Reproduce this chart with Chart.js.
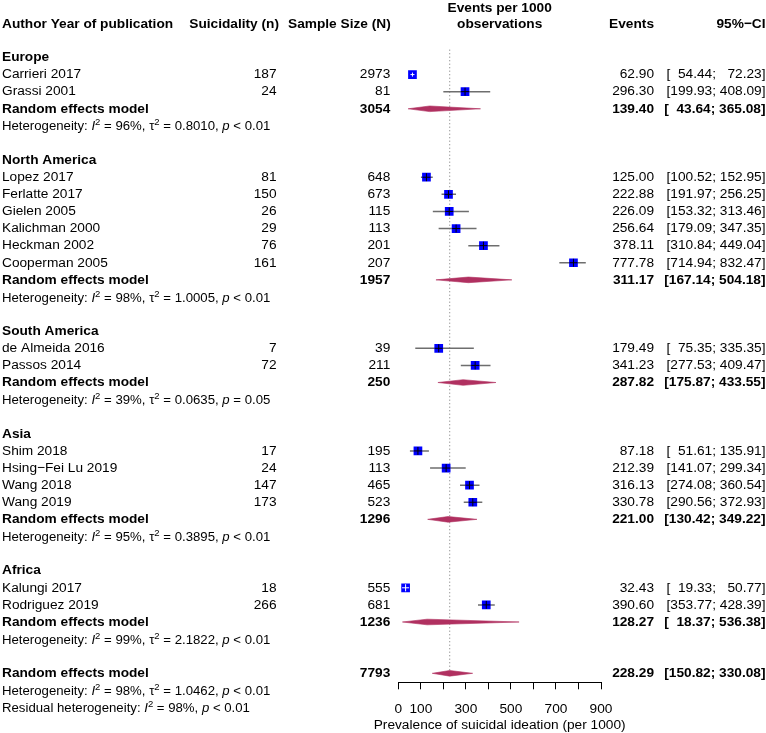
<!DOCTYPE html>
<html><head><meta charset="utf-8">
<script src="https://cdn.jsdelivr.net/npm/chart.js@4"></script>
<style>html,body{margin:0;padding:0;background:#fff;}canvas{display:block;}</style>
</head><body>
<canvas id="c" width="766" height="733"></canvas>
<script>
// ---------------- DATA ----------------
const groupNames = ['Europe', 'North America', 'South America', 'Asia', 'Africa'];
const studyGroup = [0, 0, 1, 1, 1, 1, 1, 1, 2, 2, 3, 3, 3, 3, 4, 4];
const studyLabels = ['Carrieri 2017', 'Grassi 2001', 'Lopez 2017', 'Ferlatte 2017', 'Gielen 2005',
  'Kalichman 2000', 'Heckman 2002', 'Cooperman 2005', 'de Almeida 2016', 'Passos 2014',
  'Shim 2018', 'Hsing\u2212Fei Lu 2019', 'Wang 2018', 'Wang 2019', 'Kalungi 2017', 'Rodriguez 2019'];
const studyEvents = [187, 24, 81, 150, 26, 29, 76, 161, 7, 72, 17, 24, 147, 173, 18, 266];
const studyN = [2973, 81, 648, 673, 115, 113, 201, 207, 39, 211, 195, 113, 465, 523, 555, 681];
const studyEst = [62.90, 296.30, 125.00, 222.88, 226.09, 256.64, 378.11, 777.78, 179.49, 341.23, 87.18, 212.39, 316.13, 330.78, 32.43, 390.60];
const studyLo = [54.44, 199.93, 100.52, 191.97, 153.32, 179.09, 310.84, 714.94, 75.35, 277.53, 51.61, 141.07, 274.08, 290.56, 19.33, 353.77];
const studyHi = [72.23, 408.09, 152.95, 256.25, 313.46, 347.35, 449.04, 832.47, 335.35, 409.47, 135.91, 299.34, 360.54, 372.93, 50.77, 428.39];
const groupN = [3054, 1957, 250, 1296, 1236];
const groupEst = [139.40, 311.17, 287.82, 221.00, 128.27];
const groupLo = [43.64, 167.14, 175.87, 130.42, 18.37];
const groupHi = [365.08, 504.18, 433.55, 349.22, 536.38];
const groupI2 = ['96%', '98%', '39%', '95%', '99%'];
const groupTau2 = ['0.8010', '1.0005', '0.0635', '0.3895', '2.1822'];
const groupP = ['< 0.01', '< 0.01', '= 0.05', '< 0.01', '< 0.01'];
const overallN = [7793];
const overallEst = [228.29];
const overallLo = [150.82];
const overallHi = [330.08];
const overallI2 = ['98%'];
const overallTau2 = ['1.0462'];
const overallP = ['< 0.01'];
const residualI2 = ['98%'];
const residualP = ['< 0.01'];
const xTicks = [0, 100, 200, 300, 400, 500, 600, 700, 800, 900];
const xTickLabels = [0, 100, 300, 500, 700, 900];
const xTitle = 'Prevalence of suicidal ideation (per 1000)';

// ---------------- ROW STRUCTURE ----------------
const rowStudy = [], rowGroupLabel = [], rowGroupRE = [], rowGroupHet = [];
let r = -1;
groupNames.forEach((g, gi) => {
  rowGroupLabel[gi] = r++;
  studyGroup.forEach((sg, i) => { if (sg === gi) rowStudy[i] = r++; });
  rowGroupRE[gi] = r++;
  rowGroupHet[gi] = r++;
  r++;
});
const rowOverall = r, rowOverallHet = r + 1, rowResidual = r + 2;

// ---------------- STYLE ----------------
const FONT = '"Liberation Sans", Arial, Helvetica, sans-serif';
const FS = 13.7;
const HS = 13.2;
const SUP = 9.5;
const SQ = 8.7;        // square side in px
const DH = 0.165;      // diamond half height in row units
const DIAMOND = '#B03060';

// ---------------- DATASETS ----------------
const datasets = [];
datasets.push({
  data: [{x: overallEst[0], y: -1.46}, {x: overallEst[0], y: rowOverall}],
  showLine: true, borderColor: '#8c8c8c', borderWidth: 1, borderDash: [1.2, 2.3],
  pointRadius: 0, order: 50
});
studyEst.forEach((e, i) => {
  datasets.push({
    data: [{x: studyLo[i], y: rowStudy[i]}, {x: studyHi[i], y: rowStudy[i]}],
    showLine: true, borderColor: '#6e6e6e', borderWidth: 1.5, pointRadius: 0, order: 40
  });
});
datasets.push({
  data: studyEst.map((e, i) => ({x: e, y: rowStudy[i]})),
  pointStyle: 'rect', pointRadius: SQ / 2 / Math.SQRT1_2, pointBackgroundColor: '#0000FF',
  pointBorderWidth: 0, pointBorderColor: '#0000FF', showLine: false, order: 30
});
function ciPx(c) {
  const xs = c.chart.scales.x; const i = c.dataIndex;
  return xs.getPixelForValue(studyHi[i]) - xs.getPixelForValue(studyLo[i]);
}
datasets.push({
  data: studyEst.map((e, i) => ({x: e, y: rowStudy[i]})),
  pointStyle: 'cross', showLine: false, order: 20,
  pointRadius: c => Math.min(SQ / 2 - 0.4, ciPx(c) / 2),
  pointBorderColor: c => (ciPx(c) < SQ ? '#ffffff' : '#000000'),
  pointBorderWidth: 1, pointBackgroundColor: 'transparent'
});
function diamond(est, lo, hi, row) {
  datasets.push({
    data: [{x: lo, y: row}, {x: est, y: row - DH}, {x: hi, y: row}, {x: est, y: row + DH}, {x: lo, y: row}],
    showLine: true, fill: 'shape', backgroundColor: DIAMOND, borderColor: DIAMOND,
    borderWidth: 0.6, pointRadius: 0, order: 10, tension: 0
  });
}
groupEst.forEach((e, gi) => diamond(e, groupLo[gi], groupHi[gi], rowGroupRE[gi]));
diamond(overallEst[0], overallLo[0], overallHi[0], rowOverall);

// ---------------- TEXT PLUGIN ----------------
function rich(ctx, x, y, segs) {
  let cx = x;
  segs.forEach(s => {
    const [t, kind] = s;
    let font, dy = 0;
    if (kind === 'i') font = `italic ${HS}px ${FONT}`;
    else if (kind === 's') { font = `${SUP}px ${FONT}`; dy = -5; }
    else font = `${HS}px ${FONT}`;
    ctx.font = font;
    ctx.fillText(t, cx, y + dy);
    cx += ctx.measureText(t).width;
  });
}
function hetSegs(i2, tau2, p) {
  return [['Heterogeneity: ', 'n'], ['I', 'i'], ['2', 's'], [' = ' + i2 + ', ', 'n'],
    ['\u03C4', 'n'], ['2', 's'], [' = ' + tau2 + ', ', 'n'], ['p', 'i'], [' ' + p, 'n']];
}
const X_LABEL = 2, X_n = 276.5, X_N = 390.3, X_EV = 654, X_END = 765.5;
const textPlugin = {
  id: 'forestText',
  afterDraw(chart) {
    const ctx = chart.ctx;
    const Y = v => chart.scales.y.getPixelForValue(v);
    const xc = (chart.chartArea.left + chart.chartArea.right) / 2;
    ctx.save();
    ctx.fillStyle = '#000';
    ctx.textBaseline = 'middle';
    const setF = bold => { ctx.font = `${bold ? 'bold ' : ''}${FS}px ${FONT}`; };
    const put = (t, x, y, align, bold) => {
      setF(bold);
      ctx.textAlign = align;
      ctx.fillText(t, x, y);
    };
    const ci = (lo, hi, y, bold) => {
      setF(bold);
      const wNum = ctx.measureText('000.00').width;
      const wBr = ctx.measureText(']').width;
      const wSemi = ctx.measureText(';').width;
      const wSp = ctx.measureText(' ').width;
      const upR = X_END - wBr;
      const loR = upR - wNum - wSp - wSemi;
      const brL = loR - wNum - ctx.measureText('[').width;
      put('[', brL, y, 'left', bold);
      put(lo.toFixed(2), loR, y, 'right', bold);
      put(';', loR, y, 'left', bold);
      put(hi.toFixed(2), upR, y, 'right', bold);
      put(']', upR, y, 'left', bold);
    };
    const hy = Y(-3) + 1.4;
    put('Author Year of publication', X_LABEL, hy, 'left', true);
    put('Suicidality (n)', 279, hy, 'right', true);
    put('Sample Size (N)', 390.7, hy, 'right', true);
    put('Events per 1000', xc, hy - 16.6, 'center', true);
    put('observations', xc, hy, 'center', true);
    put('Events', X_EV, hy, 'right', true);
    put('95%\u2212CI', X_END, hy, 'right', true);
    groupNames.forEach((g, gi) => {
      put(g, X_LABEL, Y(rowGroupLabel[gi]), 'left', true);
      const y = Y(rowGroupRE[gi]);
      put('Random effects model', X_LABEL, y, 'left', true);
      put(String(groupN[gi]), X_N, y, 'right', true);
      put(groupEst[gi].toFixed(2), X_EV, y, 'right', true);
      ci(groupLo[gi], groupHi[gi], y, true);
      ctx.textAlign = 'left';
      ctx.textBaseline = 'alphabetic';
      rich(ctx, X_LABEL, Y(rowGroupHet[gi]) + 4.6, hetSegs(groupI2[gi], groupTau2[gi], groupP[gi]));
      ctx.textBaseline = 'middle';
    });
    studyLabels.forEach((s, i) => {
      const y = Y(rowStudy[i]);
      put(s, X_LABEL, y, 'left', false);
      put(String(studyEvents[i]), X_n, y, 'right', false);
      put(String(studyN[i]), X_N, y, 'right', false);
      put(studyEst[i].toFixed(2), X_EV, y, 'right', false);
      ci(studyLo[i], studyHi[i], y, false);
    });
    const yo = Y(rowOverall);
    put('Random effects model', X_LABEL, yo, 'left', true);
    put(String(overallN[0]), X_N, yo, 'right', true);
    put(overallEst[0].toFixed(2), X_EV, yo, 'right', true);
    ci(overallLo[0], overallHi[0], yo, true);
    // axis title
    put(xTitle, xc, 725.5, 'center', false);
    ctx.textAlign = 'left';
    ctx.textBaseline = 'alphabetic';
    rich(ctx, X_LABEL, Y(rowOverallHet) + 4.6, hetSegs(overallI2[0], overallTau2[0], overallP[0]));
    rich(ctx, X_LABEL, Y(rowResidual) + 4.6, [['Residual heterogeneity: ', 'n'], ['I', 'i'], ['2', 's'],
      [' = ' + residualI2[0] + ', ', 'n'], ['p', 'i'], [' ' + residualP[0], 'n']]);
    ctx.restore();
  }
};

// ---------------- CHART ----------------
new Chart(document.getElementById('c'), {
  type: 'scatter',
  data: {datasets},
  plugins: [textPlugin],
  options: {
    responsive: false, animation: false, devicePixelRatio: 1,
    layout: {padding: {left: 398.3, right: 165, top: 4.74, bottom: 0}},
    plugins: {legend: {display: false}, tooltip: {enabled: false}},
    elements: {line: {tension: 0}},
    scales: {
      x: {
        type: 'linear', position: 'bottom', min: 0, max: 900,
        afterFit: s => { s.height = 50.7; },
        afterBuildTicks: s => { s.ticks = xTicks.map(v => ({value: v})); },
        ticks: {
          autoSkip: false, maxRotation: 0, padding: 11.3, color: '#000',
          font: {family: FONT, size: FS},
          callback: v => (xTickLabels.includes(v) ? String(v) : '')
        },
        grid: {display: true, drawOnChartArea: false, drawTicks: true, tickLength: 7, color: '#000', lineWidth: 1},
        border: {display: true, color: '#000', width: 1},
        title: {display: false}
      },
      y: {type: 'linear', display: false, reverse: true, min: -4, max: rowOverall + 0.525}
    }
  }
});
</script>
</body></html>
